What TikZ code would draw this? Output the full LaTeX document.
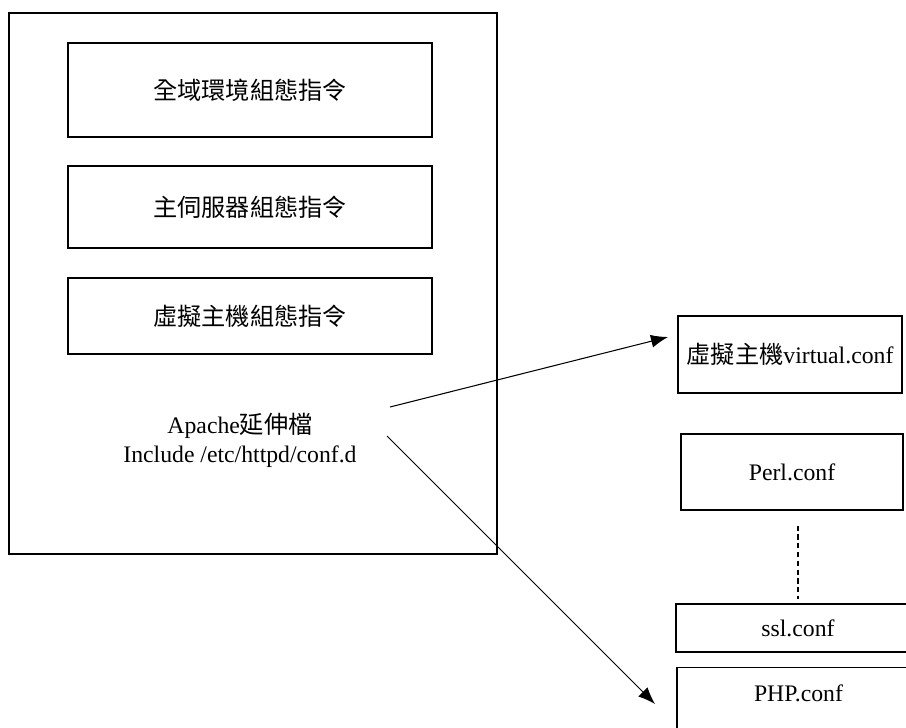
\documentclass[tikz,border=0pt]{standalone}
\usepackage{fontspec}
\setmainfont{Liberation Serif}
\newfontfamily\cjk[Scale=1.02]{Noto Sans CJK TC}
\usepackage{tikz}
\usetikzlibrary{
    arrows.meta,
    calc,
    positioning
}

\tikzset{
    cfgbox/.style={draw, line width=0.7pt, minimum width=7.28cm},
    filebox/.style={draw, line width=0.7pt},
}

\begin{document}
\begin{tikzpicture}[x=0.02cm, y=-0.02cm, font=\fontsize{13.5}{16.5}\selectfont,
                    >={Latex[length=3.4mm, width=2.6mm]}]
    \useasboundingbox (0, 0) rectangle (906, 727);
    \clip (0, 0) rectangle (906, 727);

    % httpd.conf
    \node[draw, line width=0.7pt, minimum width=9.76cm, minimum height=10.82cm] (httpd) at (253, 283.5) {};
    \node[cfgbox, minimum height=1.88cm] (global) at (250, 90) {\cjk 全域環境組態指令};
    \node[cfgbox, minimum height=1.64cm] (mainsrv) at (250, 207) {\cjk 主伺服器組態指令};
    \node[cfgbox, minimum height=1.52cm] (vhost) at (250, 316) {\cjk 虛擬主機組態指令};
    \node[align=center] (ext) at (240, 440) {Apache{\cjk 延伸檔}\\Include /etc/httpd/conf.d};

    % conf.d
    \node[filebox, minimum width=4.48cm, minimum height=1.54cm] (virt) at (790, 354.5) {{\cjk 虛擬主機}virtual.conf};
    \node[filebox, minimum width=4.44cm, minimum height=1.52cm] (perl) at (792, 472) {Perl.conf};
    \node[filebox, minimum width=4.88cm, minimum height=0.96cm] (ssl) at (798, 628) {ssl.conf};
    \node[filebox, anchor=north, minimum width=4.86cm, inner ysep=0pt,
          text height=0.68cm, text depth=1cm] (php) at (798.5, 667) {PHP.conf};

    \coordinate (vfrom) at (390, 407);
    \coordinate (vto) at (668, 337);
    \coordinate (pfrom) at (387, 436);
    \coordinate (pto) at (655, 704);

    \draw[line width=0.6pt]
    (vfrom) edge[->] (vto)
    (pfrom) edge[->] (pto);
    \draw[dashed, dash pattern=on 3pt off 2pt, line width=0.6pt]
    ($(perl.south -| ssl.north)+(0, 15)$) -- ($(ssl.north)+(0, -4)$);
\end{tikzpicture}
\end{document}
